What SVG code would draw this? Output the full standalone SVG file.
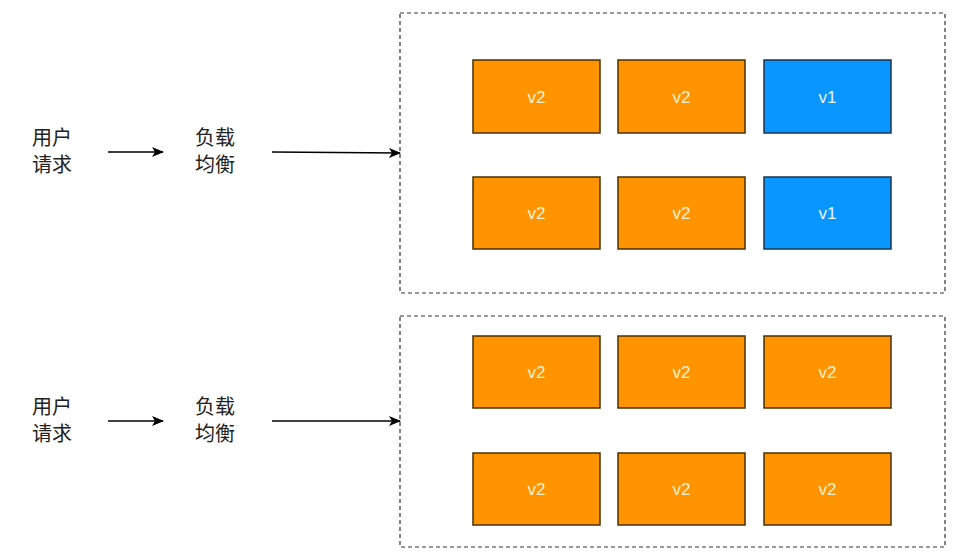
<svg xmlns="http://www.w3.org/2000/svg" width="974" height="560" viewBox="0 0 974 560">
<defs>
<marker id="ah" viewBox="0 0 12 10" refX="11" refY="5" markerWidth="12" markerHeight="10" markerUnits="userSpaceOnUse" orient="auto">
<path d="M0,0 L12,5 L0,10 L3,5 Z" fill="#000"/>
</marker>
<style>
.lbl{font-family:"Noto Sans CJK SC","Noto Sans",sans-serif;font-size:20px;fill:#222}
.grp{fill:none;stroke:#333;stroke-width:1.2;stroke-dasharray:4 3}
.o{fill:#FF9300;stroke:#4a3000;stroke-width:1.5}
.b{fill:#0A96FF;stroke:#1b3550;stroke-width:1.5}
.t{font-family:"Liberation Sans",Arial,sans-serif;font-size:17px;text-anchor:middle;dominant-baseline:central}
.to{fill:#FFF2D2}
.tb{fill:#E6F5FF}
.c{stroke:#000;stroke-width:1.5;fill:none;marker-end:url(#ah)}
</style>
</defs>
<rect width="974" height="560" fill="#fff"/>
<g id="group-top"><rect class="grp" x="400" y="13" width="545" height="280"/></g>
<g id="group-bottom"><rect class="grp" x="400" y="316" width="545" height="231"/></g>

<g id="user1"><text class="lbl" x="32" y="145">用户</text><text class="lbl" x="32" y="172">请求</text></g>
<g id="lb1"><text class="lbl" x="195" y="145">负载</text><text class="lbl" x="195" y="172">均衡</text></g>
<g id="user2"><text class="lbl" x="32" y="414">用户</text><text class="lbl" x="32" y="441">请求</text></g>
<g id="lb2"><text class="lbl" x="195" y="414">负载</text><text class="lbl" x="195" y="441">均衡</text></g>

<g id="n11"><rect class="o" x="473" y="60" width="127" height="73"/><text class="t to" x="536.5" y="97">v2</text></g>
<g id="n12"><rect class="o" x="618" y="60" width="127" height="73"/><text class="t to" x="681.5" y="97">v2</text></g>
<g id="n13"><rect class="b" x="764" y="60" width="127" height="73"/><text class="t tb" x="827.5" y="97">v1</text></g>
<g id="n21"><rect class="o" x="473" y="177" width="127" height="72"/><text class="t to" x="536.5" y="213">v2</text></g>
<g id="n22"><rect class="o" x="618" y="177" width="127" height="72"/><text class="t to" x="681.5" y="213">v2</text></g>
<g id="n23"><rect class="b" x="764" y="177" width="127" height="72"/><text class="t tb" x="827.5" y="213">v1</text></g>
<g id="n31"><rect class="o" x="473" y="336" width="127" height="72"/><text class="t to" x="536.5" y="372">v2</text></g>
<g id="n32"><rect class="o" x="618" y="336" width="127" height="72"/><text class="t to" x="681.5" y="372">v2</text></g>
<g id="n33"><rect class="o" x="764" y="336" width="127" height="72"/><text class="t to" x="827.5" y="372">v2</text></g>
<g id="n41"><rect class="o" x="473" y="453" width="127" height="72"/><text class="t to" x="536.5" y="489">v2</text></g>
<g id="n42"><rect class="o" x="618" y="453" width="127" height="72"/><text class="t to" x="681.5" y="489">v2</text></g>
<g id="n43"><rect class="o" x="764" y="453" width="127" height="72"/><text class="t to" x="827.5" y="489">v2</text></g>

<g id="connectors">
<path class="c" d="M108,152 L163,152"/>
<path class="c" d="M272,152 L400,153"/>
<path class="c" d="M108,421 L163,421"/>
<path class="c" d="M272,421 L400,421"/>
</g>
</svg>
